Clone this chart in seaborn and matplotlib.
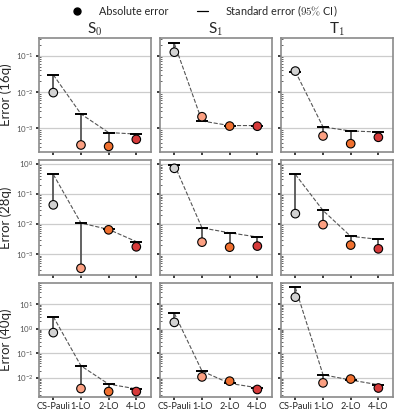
import numpy as np
import pandas as pd
import seaborn as sns
import matplotlib
matplotlib.use('Agg')
import matplotlib.pyplot as plt
from matplotlib.lines import Line2D

# data
methods = ['CS-Pauli', '1-LO', '2-LO', '4-LO']
states = ['S$_0$', 'S$_1$', 'T$_1$']
sizes = ['16q', '28q', '40q']
colors = ['#d2d2d2', '#fca082', '#f0702f', '#d63a3a']

# absolute error (points)
abs_16q = {'S0': [9.7e-3, 3.5e-4, 3.2e-4, 5.0e-4],
           'S1': [0.126, 2.1e-3, 1.16e-3, 1.15e-3],
           'T1': [0.038, 6.2e-4, 3.8e-4, 5.7e-4]}
abs_28q = {'S0': [0.043, 3.4e-4, 6.4e-3, 1.75e-3],
           'S1': [0.70, 2.5e-3, 1.7e-3, 1.85e-3],
           'T1': [0.022, 9.5e-3, 2.0e-3, 1.5e-3]}
abs_40q = {'S0': [0.69, 3.7e-3, 2.8e-3, 2.8e-3],
           'S1': [1.8, 0.011, 7.4e-3, 3.4e-3],
           'T1': [19.0, 6.3e-3, 9.0e-3, 3.9e-3]}

# standard error, 95% CI (caps + dashed line)
se_16q = {'S0': [0.030, 2.5e-3, 7.7e-4, 7.0e-4],
          'S1': [0.22, 1.6e-3, 1.2e-3, 1.2e-3],
          'T1': [0.037, 1.1e-3, 8.5e-4, 8.0e-4]}
se_28q = {'S0': [0.44, 0.0107, 6.6e-3, 2.6e-3],
          'S1': [0.93, 7.4e-3, 5.1e-3, 3.7e-3],
          'T1': [0.44, 0.028, 3.9e-3, 3.1e-3]}
se_40q = {'S0': [3.07, 0.031, 5.6e-3, 3.6e-3],
          'S1': [4.2, 0.019, 6.0e-3, 4.0e-3],
          'T1': [47.0, 0.0135, 8.2e-3, 5.3e-3]}

abs_all = [abs_16q, abs_28q, abs_40q]
se_all = [se_16q, se_28q, se_40q]
ylims = [(2.2e-4, 0.31), (2.1e-4, 1.29), (1.7e-3, 74)]

sns.set_theme(style='whitegrid')
plt.rcParams['font.family'] = ['Lato', 'DejaVu Sans']
plt.rcParams['mathtext.fontset'] = 'cm'

fig, axes = plt.subplots(3, 3, figsize=(3.97, 4.13), dpi=100, sharex=True, sharey='row')
fig.subplots_adjust(left=0.098, right=0.99, top=0.908, bottom=0.039, wspace=0.08, hspace=0.07)

keys = ['S0', 'S1', 'T1']
for i in range(3):
    for j in range(3):
        ax = axes[i, j]
        df = pd.DataFrame({'method': methods,
                           'abs': abs_all[i][keys[j]],
                           'se': se_all[i][keys[j]]})
        # vertical bar from point to standard error
        ax.vlines(df['method'], df['abs'], df['se'], color='#555555', lw=1.3, zorder=2)
        # dashed line through standard error
        sns.lineplot(data=df, x='method', y='se', ax=ax, color='#555555', lw=0.8,
                     linestyle='--', marker='_', markersize=9, markeredgewidth=1.4,
                     markeredgecolor='black', zorder=3, sort=False)
        # absolute error points
        sns.scatterplot(data=df, x='method', y='abs', hue='method', palette=colors,
                        ax=ax, s=38, edgecolor='black', linewidth=0.8, legend=False, zorder=4)
        ax.set_yscale('log')
        ax.set_ylim(*ylims[i])
        ax.set_xlim(-0.52, 3.53)
        ax.grid(axis='x', visible=False)
        ax.grid(axis='y', which='major', color='#cccccc', lw=0.9)
        for s in ax.spines.values():
            s.set_color('#8a8a8a')
            s.set_linewidth(1.2)
        ax.tick_params(axis='y', which='major', labelsize=5.8, length=2.5, pad=1.5,
                       labelcolor='#555555', left=True)
        ax.tick_params(axis='y', which='minor', direction='in', length=1.5, width=0.5, left=True)
        ax.tick_params(axis='x', labelsize=6.6, length=2.5, pad=1.5, bottom=True,
                       labelcolor='#222222')
        ax.set_xlabel('')
        ax.set_ylabel('')
        if i == 0:
            ax.set_title(states[j], fontsize=11, pad=3)
        if j == 0:
            ax.set_ylabel(f'Error ({sizes[i]})', fontsize=9.5, labelpad=3)

handles = [Line2D([], [], marker='o', color='black', linestyle='none', markersize=5),
           Line2D([], [], color='black', lw=0.9)]
fig.legend(handles, ['Absolute error', 'Standard error ($95\\%$ CI)'], loc='upper center',
           bbox_to_anchor=(0.515, 1.015), ncol=2, frameon=False, fontsize=7.8,
           handlelength=1.0, handletextpad=1.6, columnspacing=2.6)

fig.savefig('out.png', dpi=100)
